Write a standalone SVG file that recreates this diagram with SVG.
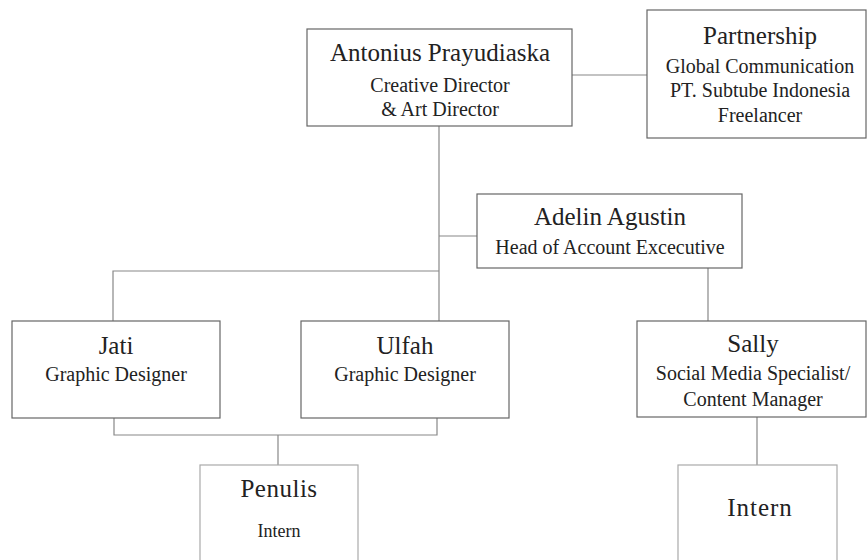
<svg xmlns="http://www.w3.org/2000/svg" width="868" height="560" viewBox="0 0 868 560">
<style>
.box{fill:#fff;stroke:#666;stroke-width:1.2}
.lbox{fill:#fff;stroke:#aaa;stroke-width:1.2}
.con{fill:none;stroke:#888;stroke-width:1.2}
text{font-family:"Liberation Serif","Times New Roman",serif;fill:#222;text-anchor:middle}
.n{font-size:25px}
.r{font-size:20px}
</style>
<rect width="868" height="560" fill="#fff"/>
<g id="connectors">
<path class="con" d="M439 126V321"/>
<path class="con" d="M572 75H647"/>
<path class="con" d="M439 236H477"/>
<path class="con" d="M439 271H113V321"/>
<path class="con" d="M708 268V321"/>
<path class="con" d="M114 418V435H437V418"/>
<path class="con" d="M278 435V465"/>
<path class="con" d="M757 417V465"/>
</g>
<g id="antonius">
<rect class="box" x="307" y="29" width="265" height="97"/>
<text class="n" x="440" y="61">Antonius Prayudiaska</text>
<text class="r" x="440" y="92">Creative Director</text>
<text class="r" x="440" y="116">&amp; Art Director</text>
</g>
<g id="partnership">
<rect class="box" x="647" y="10" width="219" height="128"/>
<text class="n" x="760" y="44">Partnership</text>
<text class="r" x="760" y="73">Global Communication</text>
<text class="r" x="760" y="97">PT. Subtube Indonesia</text>
<text class="r" x="760" y="122">Freelancer</text>
</g>
<g id="adelin">
<rect class="box" x="477" y="194" width="265" height="74"/>
<text class="n" x="610" y="225">Adelin Agustin</text>
<text class="r" x="610" y="254">Head of Account Excecutive</text>
</g>
<g id="jati">
<rect class="box" x="12" y="321" width="208" height="97"/>
<text class="n" x="116" y="354">Jati</text>
<text class="r" x="116" y="381">Graphic Designer</text>
</g>
<g id="ulfah">
<rect class="box" x="301" y="321" width="208" height="97"/>
<text class="n" x="405" y="354">Ulfah</text>
<text class="r" x="405" y="381">Graphic Designer</text>
</g>
<g id="sally">
<rect class="box" x="637" y="321" width="229" height="96"/>
<text class="n" x="753" y="352">Sally</text>
<text class="r" x="753" y="380">Social Media Specialist/</text>
<text class="r" x="753" y="406">Content Manager</text>
</g>
<g id="penulis">
<rect class="lbox" x="200" y="465" width="158" height="100"/>
<text class="n" x="279" y="497" style="letter-spacing:0.5px">Penulis</text>
<text x="279" y="537" style="font-size:18px">Intern</text>
</g>
<g id="intern">
<rect class="lbox" x="678" y="465" width="159" height="100"/>
<text class="n" x="760" y="516" style="letter-spacing:1px">Intern</text>
</g>
</svg>
